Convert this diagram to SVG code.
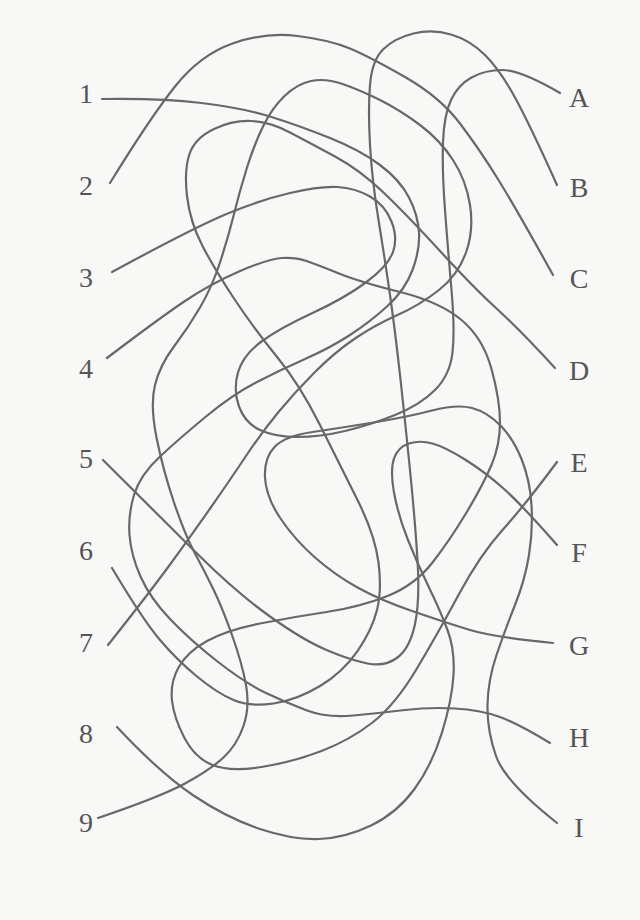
<svg xmlns="http://www.w3.org/2000/svg" width="640" height="920" viewBox="0 0 640 920">
<style>
.ln{fill:none;stroke:#686868;stroke-width:2.2;stroke-linecap:round;stroke-linejoin:round}
.lb{font-family:"Liberation Serif","Times New Roman",serif;font-size:28px;fill:#555;text-anchor:middle}
</style>
<rect width="640" height="920" fill="#f8f8f6"/>
<g id="connectors">
<path id="s1" class="ln" d="M102,99 Q160,98 201.5,103 Q243,108 271.5,117 Q300,126 330,138 Q360,150 380,165 Q400,180 409,197.5 Q418,215 419,232.5 Q420,250 412.5,270 Q405,290 387.5,306 Q370,322 350,335 Q330,348 305,359 Q280,370 256,382.5 Q232,395 206,416.5 Q180,438 160,456.5 Q140,475 134,495 Q128,515 129.5,535 Q131,555 140.5,576.5 Q150,598 170,619 Q190,640 217.5,661.5 Q245,683 266,693 Q287,703 307,710.5 Q327,718 353.5,715.5 Q380,713 405,710 Q430,707 455,708.5 Q480,710 498.5,716.5 Q517,723 550,743"/>
<path id="s2" class="ln" d="M110,183 Q150,118 175,86.5 Q200,55 232.5,43.5 Q265,32 297.5,36 Q330,40 350,48.5 Q370,57 405,77 Q440,97 460,123.5 Q480,150 498.5,180 Q517,210 553,275"/>
<path id="s3" class="ln" d="M112,272 Q193,228 226.5,214 Q260,200 290,193 Q320,186 337.5,187 Q355,188 370,196.5 Q385,205 391.5,221.5 Q398,238 393,252 Q388,266 366.5,282 Q345,298 312.5,313 Q280,328 261.5,341.5 Q243,355 238,372.5 Q233,390 239,406.5 Q245,423 260,430 Q275,437 297.5,437 Q320,437 345,431 Q370,425 395,415 Q420,405 435,390 Q450,375 452.5,352.5 Q455,330 451.5,290 Q448,250 445,210 Q442,170 443,142.5 Q444,115 451,100 Q458,85 471.5,77.5 Q485,70 502.5,70 Q520,70 560,93"/>
<path id="s4" class="ln" d="M107,358 Q157,320 183.5,302 Q210,284 239,271.5 Q268,259 281.5,258 Q295,257 306.5,261 Q318,265 339,273.5 Q360,282 400,292 Q440,302 461.5,320 Q483,338 491.5,369 Q500,400 500,422.5 Q500,445 491.5,465 Q483,485 466.5,512.5 Q450,540 432.5,562.5 Q415,585 387.5,596 Q360,607 326.5,612 Q293,617 260,623.5 Q227,630 207,641 Q187,652 178.5,667.5 Q170,683 172,700.5 Q174,718 184.5,738 Q195,758 212.5,765 Q230,772 261.5,767 Q293,762 321.5,751 Q350,740 372.5,722.5 Q395,705 416,670 Q437,635 458.5,595 Q480,555 502.5,530 Q525,505 557,462"/>
<path id="s5" class="ln" d="M103,460 Q160,517 198.5,555 Q237,593 270,616.5 Q303,640 326.5,650 Q350,660 367.5,663.5 Q385,667 397.5,657.5 Q410,648 415,624 Q420,600 417.5,560 Q415,520 410,470 Q405,420 400,375 Q395,330 390,295 Q385,260 378.5,220 Q372,180 370,145 Q368,110 370,85 Q372,60 383.5,49 Q395,38 413.5,33.5 Q432,29 451,34.5 Q470,40 485,55 Q500,70 515,97.5 Q530,125 557,185"/>
<path id="s6" class="ln" d="M112,568 Q143,620 160,640 Q177,660 197,676.5 Q217,693 233.5,700 Q250,707 273.5,703.5 Q297,700 320,686 Q343,672 357.5,651 Q372,630 377,610 Q382,590 378.5,562.5 Q375,535 357.5,500 Q340,465 320,425 Q300,385 277.5,357.5 Q255,330 235,300 Q215,270 202.5,246 Q190,222 187,196 Q184,170 189.5,154 Q195,138 214,129 Q233,120 251.5,121 Q270,122 290,132.5 Q310,143 335,156.5 Q360,170 383.5,192.5 Q407,215 440,251 Q473,287 496.5,308.5 Q520,330 555,368"/>
<path id="s7" class="ln" d="M108,645 Q150,592 171.5,562.5 Q193,533 211.5,506.5 Q230,480 246,456 Q262,432 278.5,412 Q295,392 315,372 Q335,352 355,338.5 Q375,325 397.5,315 Q420,305 439,290 Q458,275 466,252.5 Q474,230 470,205 Q466,180 453,160 Q440,140 420,125 Q400,110 380,100 Q360,90 342.5,84 Q325,78 311,81 Q297,84 284.5,96 Q272,108 263,126.5 Q254,145 247,167.5 Q240,190 234,214 Q228,238 220,262.5 Q212,287 200,307.5 Q188,328 174,346.5 Q160,365 155,385 Q150,405 156.5,437.5 Q163,470 174,502.5 Q185,535 195,553.5 Q205,572 213.5,589.5 Q222,607 232,635 Q242,663 246,685 Q250,707 243.5,726 Q237,745 223.5,757.5 Q210,770 185,783.5 Q160,797 98,818"/>
<path id="s8" class="ln" d="M117,727 Q160,773 193.5,795.5 Q227,818 260,829 Q293,840 319,839 Q345,838 371,825.5 Q397,813 414.5,789 Q432,765 442,732.5 Q452,700 453.5,675 Q455,650 447.5,630 Q440,610 429,587.5 Q418,565 408,540 Q398,515 394,492.5 Q390,470 394,458.5 Q398,447 409,443.5 Q420,440 432.5,443.5 Q445,447 465,459.5 Q485,472 503.5,488.5 Q522,505 557,545"/>
<path id="s9" class="ln" d="M553,643 Q493,637 470,630 Q447,623 413.5,611.5 Q380,600 357.5,587.5 Q335,575 315,557.5 Q295,540 280.5,518.5 Q266,497 265,477.5 Q264,458 274.5,447 Q285,436 312.5,432 Q340,428 373.5,422.5 Q407,417 432,410.5 Q457,404 472,408 Q487,412 500,425 Q513,438 521.5,459 Q530,480 531.5,505 Q533,530 529,555 Q525,580 515,605 Q505,630 496.5,655 Q488,680 487.5,705 Q487,730 496,756 Q505,782 557,823"/>
</g>
<g id="n1"><text class="lb" x="86" y="103">1</text></g>
<g id="n2"><text class="lb" x="86" y="195">2</text></g>
<g id="n3"><text class="lb" x="86" y="287">3</text></g>
<g id="n4"><text class="lb" x="86" y="378">4</text></g>
<g id="n5"><text class="lb" x="86" y="468">5</text></g>
<g id="n6"><text class="lb" x="86" y="560">6</text></g>
<g id="n7"><text class="lb" x="86" y="652">7</text></g>
<g id="n8"><text class="lb" x="86" y="743">8</text></g>
<g id="n9"><text class="lb" x="86" y="832">9</text></g>
<g id="nA"><text class="lb" x="579" y="107">A</text></g>
<g id="nB"><text class="lb" x="579" y="197">B</text></g>
<g id="nC"><text class="lb" x="579" y="288">C</text></g>
<g id="nD"><text class="lb" x="579" y="380">D</text></g>
<g id="nE"><text class="lb" x="579" y="472">E</text></g>
<g id="nF"><text class="lb" x="579" y="562">F</text></g>
<g id="nG"><text class="lb" x="579" y="655">G</text></g>
<g id="nH"><text class="lb" x="579" y="747">H</text></g>
<g id="nI"><text class="lb" x="579" y="837">I</text></g>
</svg>
